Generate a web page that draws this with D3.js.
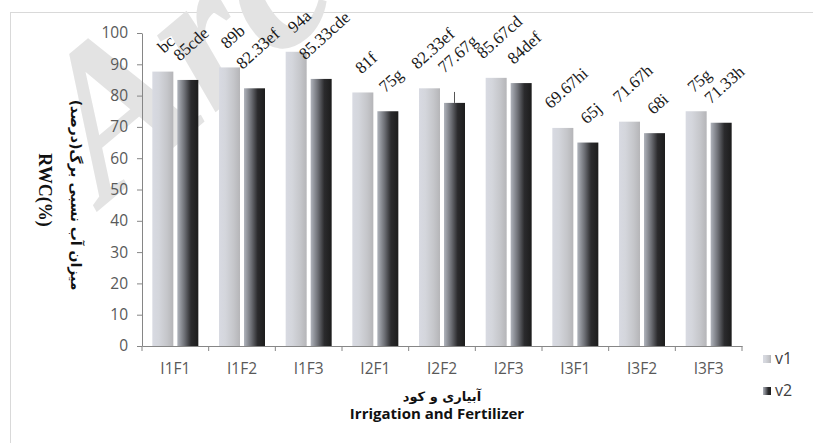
<!DOCTYPE html>
<html>
<head>
<meta charset="utf-8">
<script src="https://cdn.jsdelivr.net/npm/d3@7"></script>
<style>
  body { margin: 0; background: #fff; }
  svg { display: block; }
</style>
</head>
<body>
<div class="chart"></div>
<script>
// chart data
const categories = ['I1F1', 'I1F2', 'I1F3', 'I2F1', 'I2F2', 'I2F3', 'I3F1', 'I3F2', 'I3F3'];
const seriesNames = ['v1', 'v2'];
const v1Values = [87.67, 89, 94, 81, 82.33, 85.67, 69.67, 71.67, 75];
const v2Values = [85, 82.33, 85.33, 75, 77.67, 84, 65, 68, 71.33];
const v1Labels = ['bc', '89b', '94a', '81f', '82.33ef', '85.67cd', '69.67hi', '71.67h', '75g'];
const v2Labels = ['85cde', '82.33ef', '85.33cde', '75g', '77.67g', '84def', '65j', '68i', '71.33h'];
const v2Errors = [0, 0, 0, 0, 3.5, 0, 0, 0, 0];
const yTicks = [0, 10, 20, 30, 40, 50, 60, 70, 80, 90, 100];

const w = 813;
const h = 443;

const svg = d3.select('.chart').append('svg').attr('width', w).attr('height', h);

// gradients for the bars
const defs = svg.append('defs');
const grad1 = defs.append('linearGradient').attr('id', 'g1');
[[0, '#d8dae2'], [0.3, '#d4d6dc'], [0.7, '#c5c6ca'], [1, '#b5b5b8']].forEach((s) =>
  grad1.append('stop').attr('offset', s[0]).attr('stop-color', s[1])
);
const grad2 = defs.append('linearGradient').attr('id', 'g2');
[[0, '#b0b4bc'], [0.35, '#6c6e74'], [0.65, '#2b2b2d'], [1, '#1c1c1c']].forEach((s) =>
  grad2.append('stop').attr('offset', s[0]).attr('stop-color', s[1])
);

// outer frame
svg.append('rect')
  .attr('x', 10.5).attr('y', 12.5)
  .attr('width', 900).attr('height', 500)
  .attr('fill', 'none').attr('stroke', '#d9d9d9');

// watermark
svg.append('text')
  .attr('transform', 'translate(105,205) rotate(-40)')
  .style('font-family', 'Liberation Serif')
  .style('font-style', 'italic')
  .style('font-weight', 'bold')
  .style('font-size', '210px')
  .style('fill', '#e3e3e3')
  .text('Archive');

const x = d3.scaleBand().domain(categories).range([142, 742]).padding(0);
const y = d3.scaleLinear().domain([0, 100]).range([346, 33]);

const barW = 21;
const innerGap = 4;
const offsets = [
  (x.bandwidth() - (2 * barW + innerGap)) / 2,
  (x.bandwidth() - (2 * barW + innerGap)) / 2 + barW + innerGap,
];

// one record per bar
const bars = [];
categories.forEach((c, i) => {
  bars.push({ cat: c, k: 0, val: v1Values[i], label: v1Labels[i], err: 0 });
  bars.push({ cat: c, k: 1, val: v2Values[i], label: v2Labels[i], err: v2Errors[i] });
});

// Bars
svg.selectAll('.bar').data(bars).enter().append('rect')
  .attr('class', 'bar')
  .attr('x', (d) => x(d.cat) + offsets[d.k])
  .attr('width', barW)
  .attr('y', (d) => y(d.val))
  .attr('height', (d) => y(0) - y(d.val))
  .attr('fill', (d) => `url(#g${d.k + 1})`);

svg.selectAll('.err').data(bars.filter((d) => d.err > 0)).enter().append('line')
  .attr('class', 'err')
  .attr('x1', (d) => x(d.cat) + offsets[d.k] + barW / 2)
  .attr('x2', (d) => x(d.cat) + offsets[d.k] + barW / 2)
  .attr('y1', (d) => y(d.val))
  .attr('y2', (d) => y(d.val + d.err))
  .attr('stroke', '#555').attr('stroke-width', 1);

// Axes
const yAxis = d3.axisLeft(y).tickValues(yTicks).tickSize(5).tickPadding(9).tickSizeOuter(0);
const yAxisG = svg.append('g').attr('transform', 'translate(142,0)').call(yAxis);
yAxisG.select('.domain').attr('stroke', '#868686');
yAxisG.selectAll('.tick line').attr('stroke', '#868686');
yAxisG.selectAll('.tick text')
  .style('font-family', 'Open Sans')
  .style('font-size', '15.5px')
  .style('fill', '#595959');

const xAxis = d3.axisBottom(x).tickSize(0).tickPadding(17);
const xAxisG = svg.append('g').attr('transform', 'translate(0,346)').call(xAxis);
xAxisG.select('.domain').attr('stroke', '#868686');
xAxisG.selectAll('.tick text')
  .style('font-family', 'Open Sans')
  .style('font-size', '15.5px')
  .style('fill', '#595959');
// boundary ticks between categories
xAxisG.selectAll('.bound')
  .data(categories.concat(['end']))
  .enter().append('line')
  .attr('x1', (d, i) => 142 + i * x.bandwidth())
  .attr('x2', (d, i) => 142 + i * x.bandwidth())
  .attr('y1', 0).attr('y2', 5)
  .attr('stroke', '#868686');

// Data labels, rotated above each bar (rotation on a wrapping group)
const labG = svg.selectAll('.labg').data(bars).enter().append('g').attr('class', 'labg');
labG.append('text')
  .attr('x', 0).attr('y', 6)
  .style('font-family', 'Liberation Serif')
  .style('font-size', '17px')
  .style('fill', '#1a1a1a')
  .text((d) => d.label);
labG.each(function (d) {
  const t = this.querySelector('text');
  const L = t.getComputedTextLength();
  t.setAttribute('x', -L / 2);
  const cx = x(d.cat) + offsets[d.k] + barW / 2 + 3;
  const cy = y(d.val + d.err) - 22 - L * 0.35;
  this.setAttribute('transform', 'translate(' + cx + ',' + cy + ') rotate(-42)');
});

// Axis titles
svg.append('text')
  .attr('x', 442).attr('y', 401)
  .attr('text-anchor', 'middle')
  .style('font-family', 'DejaVu Sans')
  .style('font-weight', 'bold')
  .style('font-size', '13px')
  .style('fill', '#111')
  .text('آبیاری و کود');

svg.append('text')
  .attr('x', 437).attr('y', 419)
  .attr('text-anchor', 'middle')
  .style('font-family', 'Open Sans')
  .style('font-weight', 'bold')
  .style('font-size', '15px')
  .style('fill', '#111')
  .text('Irrigation and Fertilizer');

svg.append('text')
  .attr('transform', 'translate(71,195) rotate(90)')
  .attr('text-anchor', 'middle')
  .style('font-family', 'DejaVu Sans')
  .style('font-weight', 'bold')
  .style('font-size', '14px')
  .style('fill', '#111')
  .text('میزان آب نسبی برگ(درصد)');

svg.append('text')
  .attr('transform', 'translate(39,190) rotate(90)')
  .attr('text-anchor', 'middle')
  .style('font-family', 'Liberation Serif')
  .style('font-weight', 'bold')
  .style('font-size', '18px')
  .style('fill', '#111')
  .text('RWC(%)');

// Legend
const legend = svg.append('g').attr('transform', 'translate(763,0)');
seriesNames.forEach((s, k) => {
  legend.append('rect')
    .attr('x', 0).attr('y', 355 + k * 32)
    .attr('width', 8).attr('height', 8)
    .attr('fill', `url(#g${k + 1})`);
  legend.append('text')
    .attr('x', 12).attr('y', 364 + k * 32)
    .style('font-family', 'Open Sans')
    .style('font-size', '16px')
    .style('fill', '#404040')
    .text(s);
});
</script>
</body>
</html>
